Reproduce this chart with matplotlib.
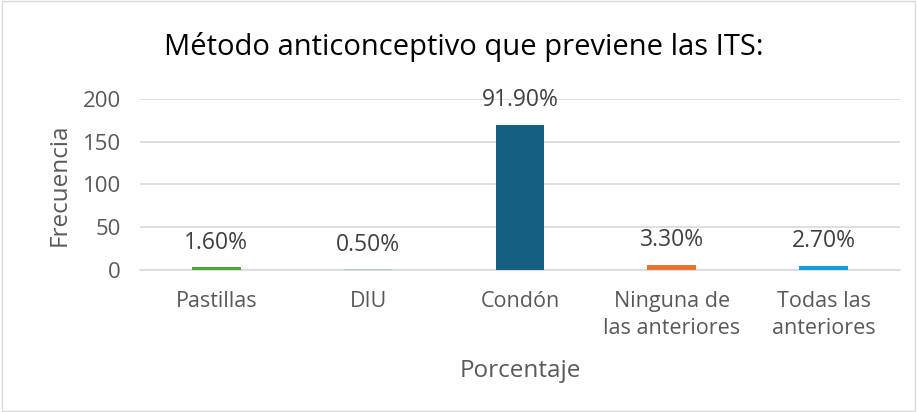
import matplotlib
matplotlib.use("Agg")
import matplotlib.pyplot as plt

# data
categorias = ["Pastillas", "DIU", "Condón", "Ninguna de\nlas anteriores", "Todas las\nanteriores"]
frecuencia = [3, 1, 170, 6, 5]
porcentajes = ["1.60%", "0.50%", "91.90%", "3.30%", "2.70%"]
colores = ["#4EA72E", "#A9C9D8", "#156082", "#E97132", "#0F9ED5"]

plt.rcParams['font.family'] = ['Open Sans', 'DejaVu Sans']

fig = plt.figure(figsize=(9.17, 4.12), dpi=100)
ax = fig.add_axes([0.153, 0.345, 0.828, 0.415])

x = list(range(len(categorias)))
ax.bar(x, frecuencia, width=0.32, color=colores, zorder=3)

for xi, v, lab in zip(x, frecuencia, porcentajes):
    ax.annotate(lab, (xi, v), xytext=(0, 9), textcoords="offset points",
                ha="center", va="bottom", fontsize=16.5, color="#404040")

ax.set_ylim(0, 200)
ax.set_xlim(-0.5, len(categorias) - 0.5)
ax.set_yticks([0, 50, 100, 150, 200])
ax.set_xticks(x)
ax.set_xticklabels(categorias, fontsize=15.5, color="#595959", linespacing=1.4)
ax.tick_params(axis="y", labelsize=16, labelcolor="#595959", length=0, pad=14)
ax.tick_params(axis="x", length=0, pad=15)
ax.grid(axis="y", color="#D9D9D9", linewidth=1.2, zorder=0)
for s in ["top", "right", "left"]:
    ax.spines[s].set_visible(False)
ax.spines["bottom"].set_color("#D9D9D9")
ax.spines["bottom"].set_linewidth(1.2)

ax.set_ylabel("Frecuencia", fontsize=17.5, color="#595959", labelpad=8)
ax.set_xlabel("Porcentaje", fontsize=17.5, color="#595959", labelpad=14)
fig.text(0.506, 0.885, "Método anticonceptivo que previene las ITS:", ha="center",
         va="center", fontsize=21, color="#000000")

# borde de la figura
fig.patches.append(plt.Rectangle((0.002, 0.003), 0.996, 0.994, transform=fig.transFigure,
                                 fill=False, edgecolor="#D9D9D9", linewidth=1))

plt.savefig("out.png", dpi=100)
